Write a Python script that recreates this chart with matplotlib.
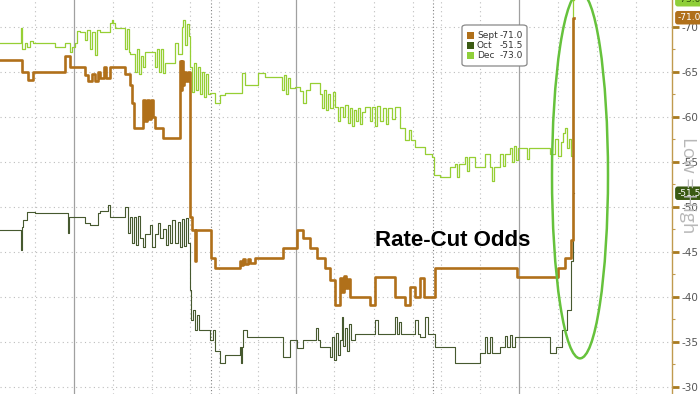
import matplotlib
matplotlib.use("Agg")
import matplotlib.pyplot as plt
from matplotlib.patches import Ellipse, FancyBboxPatch, Rectangle

# ---------------- data (time index, value) ----------------
sept_x = [0, 22, 28, 33, 65, 70, 85, 88, 92, 95, 98, 100, 104, 106, 110, 125, 130, 132, 134,
          143, 145, 147, 149, 151, 153, 155, 163, 180, 181, 182, 183, 184, 186, 188, 190, 192,
          195, 196, 211, 215, 240, 241, 243, 245, 248, 250, 255, 283, 297, 303, 310, 317, 325,
          330, 335, 340, 342, 344, 346, 348, 350, 370, 375, 395, 405, 410, 415, 420, 424, 435,
          517, 558, 565, 571, 573]
sept_v = [-66.3, -65.0, -64.1, -65.0, -66.8, -65.5, -64.6, -64.0, -64.8, -64.0, -65.0, -64.3,
          -65.5, -64.3, -65.5, -64.7, -63.5, -61.5, -58.7, -61.9, -59.5, -61.9, -59.8, -61.9,
          -60.0, -58.7, -57.6, -66.2, -63.0, -66.2, -63.5, -65.0, -64.0, -65.0, -48.9, -47.4,
          -44.0, -47.4, -44.3, -43.2, -44.0, -43.5, -44.2, -43.6, -44.2, -43.7, -44.3, -45.4,
          -47.4, -46.5, -45.4, -44.3, -43.2, -41.9, -39.1, -42.1, -40.5, -42.3, -41.0, -42.0,
          -40.0, -39.1, -42.2, -40.0, -39.1, -41.1, -40.0, -42.1, -40.0, -43.2, -42.2, -43.2,
          -44.3, -46.3, -71.0]

oct_x = [0, 21, 22, 23, 27, 35, 68, 69, 85, 90, 98, 100, 108, 110, 125, 128, 130, 132, 134,
         136, 138, 140, 143, 145, 150, 152, 155, 158, 160, 163, 166, 168, 170, 172, 175, 178,
         180, 182, 184, 186, 188, 190, 191, 193, 195, 197, 199, 210, 213, 215, 220, 225, 240,
         241, 242, 243, 247, 283, 290, 297, 303, 316, 318, 320, 330, 332, 334, 336, 338, 340,
         342, 343, 345, 347, 349, 351, 355, 375, 378, 395, 397, 399, 401, 415, 418, 420, 425,
         428, 435, 455, 480, 485, 487, 490, 492, 500, 505, 507, 510, 512, 515, 550, 556, 562,
         567, 571, 573]
oct_v = [-47.4, -45.2, -47.8, -48.5, -49.4, -49.3, -47.1, -48.9, -48.2, -48.0, -49.3, -49.5,
         -50.2, -48.9, -50.0, -47.1, -48.9, -46.0, -48.9, -45.8, -49.0, -46.5, -45.5, -47.0,
         -48.0, -45.5, -47.0, -48.2, -46.5, -47.5, -45.8, -48.0, -46.0, -48.5, -46.0, -48.3,
         -45.5, -48.6, -45.6, -48.8, -46.0, -40.7, -37.4, -38.5, -36.3, -38.0, -36.3, -35.2,
         -36.3, -34.0, -32.6, -33.5, -34.4, -32.6, -34.4, -36.3, -35.5, -33.3, -35.2, -34.3,
         -35.2, -36.5, -35.2, -34.4, -33.3, -35.5, -33.0, -36.0, -33.5, -35.2, -37.7, -34.5,
         -36.5, -34.0, -37.0, -35.2, -35.9, -37.4, -35.9, -37.7, -35.9, -37.2, -35.9, -37.4,
         -35.9, -35.5, -37.7, -35.9, -34.4, -32.6, -33.7, -35.5, -33.7, -35.5, -33.7, -34.4,
         -35.6, -34.4, -35.8, -34.4, -35.5, -33.7, -34.4, -36.3, -38.5, -44.0, -51.5]

dec_x = [0, 21, 22, 25, 27, 30, 33, 55, 65, 70, 72, 75, 77, 80, 85, 87, 90, 92, 95, 97, 100,
         110, 112, 113, 115, 125, 127, 129, 130, 135, 137, 139, 141, 143, 145, 155, 157, 159,
         161, 163, 165, 175, 178, 182, 183, 185, 187, 189, 190, 192, 194, 196, 198, 200, 202,
         204, 206, 208, 210, 215, 220, 225, 240, 242, 245, 258, 265, 280, 282, 284, 286, 288,
         290, 295, 300, 303, 306, 310, 320, 322, 324, 326, 328, 330, 333, 335, 338, 340, 343,
         345, 348, 350, 352, 354, 356, 358, 360, 362, 365, 370, 372, 375, 377, 380, 383, 386,
         388, 392, 395, 400, 405, 409, 411, 415, 425, 432, 434, 440, 450, 455, 457, 459, 465,
         467, 469, 475, 485, 490, 492, 494, 500, 503, 505, 510, 512, 514, 516, 518, 525, 527,
         529, 545, 550, 555, 558, 561, 563, 565, 567, 569, 571, 573]
dec_v = [-68.2, -69.9, -67.5, -68.2, -67.8, -68.4, -68.2, -67.7, -68.2, -67.2, -67.7, -68.2,
         -69.5, -69.4, -68.5, -69.6, -67.5, -69.4, -66.9, -69.6, -69.4, -70.4, -70.8, -70.4,
         -69.9, -67.5, -69.8, -67.2, -67.0, -65.0, -67.5, -64.8, -66.8, -65.5, -67.2, -65.5,
         -67.5, -65.0, -67.5, -64.9, -66.0, -68.2, -67.0, -70.0, -70.8, -68.0, -70.3, -69.0,
         -65.5, -62.8, -66.0, -63.0, -65.5, -62.5, -65.0, -62.2, -64.8, -62.5, -62.6, -61.5,
         -62.4, -62.6, -62.6, -64.9, -63.5, -64.9, -64.4, -64.4, -63.0, -64.6, -62.5, -64.3,
         -63.2, -63.3, -62.9, -61.5, -63.0, -63.7, -62.5, -61.0, -63.0, -60.8, -62.5, -61.0,
         -62.8, -61.1, -59.5, -61.1, -60.0, -61.3, -59.3, -61.0, -59.0, -60.8, -59.5, -61.0,
         -59.2, -60.5, -61.1, -59.5, -61.1, -59.0, -61.2, -59.5, -61.0, -59.2, -61.0, -59.7,
         -61.1, -58.8, -57.4, -58.5, -57.4, -56.6, -55.9, -55.5, -53.5, -53.3, -54.4, -54.8,
         -53.3, -54.8, -55.5, -54.0, -55.5, -54.4, -55.9, -54.4, -52.9, -54.4, -55.9, -54.5,
         -55.9, -56.5, -55.0, -56.8, -55.2, -56.5, -56.5, -55.3, -56.5, -56.5, -55.9, -57.5,
         -55.6, -57.2, -58.2, -58.8, -56.5, -57.5, -55.6, -73.0]

end_x = 574
series_names = ["Sept", "Oct", "Dec"]
last_values = [-71.0, -51.5, -73.0]
y_ticks = [-70, -65, -60, -55, -50, -45, -40, -35, -30]

dotted_vlines = [35, 113, 152, 190, 219, 258, 334, 374, 413, 441, 480, 558, 597, 636]
dark_vlines = [211, 433]
solid_vlines = [74, 296, 519]

C_SEPT = "#b0701a"
C_OCT = "#46592f"
C_DEC = "#96cf34"
C_AXIS = "#c09a4e"

fig = plt.figure(figsize=(7, 3.94), dpi=100)
ax = fig.add_axes([0, 0, 672 / 700, 1])
ax.set_xlim(0, 672)
ax.set_ylim(-29.19, -72.97)

# grid
for y in y_ticks:
    ax.axhline(y, color="#bdbdbd", lw=0.8, ls=(0, (1, 3)), zorder=0)
for x in dotted_vlines:
    ax.axvline(x, color="#bdbdbd", lw=0.8, ls=(0, (1, 3)), zorder=0)
for x in dark_vlines:
    ax.axvline(x, color="#808080", lw=0.8, ls=(0, (1, 2)), zorder=0)
for x in solid_vlines:
    ax.axvline(x, color="#a0a0a0", lw=0.9, zorder=0)

def stepxy(xs, vs):
    return list(xs) + [end_x], list(vs) + [vs[-1]]

x, v = stepxy(dec_x, dec_v)
ax.step(x, v, where="post", color=C_DEC, lw=0.9, zorder=3)
x, v = stepxy(oct_x, oct_v)
ax.step(x, v, where="post", color=C_OCT, lw=0.8, zorder=3)
x, v = stepxy(sept_x, sept_v)
ax.step(x, v, where="post", color=C_SEPT, lw=1.9, zorder=4)

# ellipse highlight
ax.add_patch(Ellipse((580, -53.5), 56, 40.7, fill=False, ec="#66c23c", lw=1.8, zorder=6,
                     clip_on=True))

# axes styling
for s in ["left", "top", "bottom"]:
    ax.spines[s].set_visible(False)
ax.spines["right"].set_color(C_AXIS)
ax.spines["right"].set_linewidth(1.0)
ax.set_xticks([])
ax.yaxis.tick_right()
ax.set_yticks(y_ticks)
ax.set_yticklabels([str(t) for t in y_ticks], fontsize=7.5, color="#555555")
ax.set_yticks([-67.5, -62.5, -57.5, -52.5, -47.5, -42.5, -37.5, -32.5], minor=True)
ax.tick_params(axis="y", which="major", direction="out", length=5, width=2,
               color="#a87a20", pad=1.5)
ax.tick_params(axis="y", which="minor", direction="out", length=2.5, width=0.8,
               color=C_AXIS)

# text
ax.text(375, -46.2, "Rate-Cut Odds", fontsize=16, fontweight="bold",
        family="Liberation Sans", color="black", va="center", ha="left", zorder=7)
fig.text(0.983, 0.53, "Low = High", rotation=-90, color="#b8b8b8", fontsize=13.5,
         va="center", ha="center", family="Open Sans")

# last-value tags
tag_fc = [C_SEPT, "#3a5a12", "#8fcf3a"]
tag_tc = ["white", "white", "#2a4a0a"]
trans = ax.get_yaxis_transform()
for val, fc, tc in zip(last_values, tag_fc, tag_tc):
    ax.text(1.008, val, f"{val:.1f}", transform=trans, fontsize=6.5, color=tc,
            ha="left", va="center", clip_on=False, zorder=8,
            bbox=dict(boxstyle="round,pad=0.25,rounding_size=0.3", fc=fc, ec="none"))

# legend (manual)
def fx(px):
    return px / 700
def fy(py):
    return 1 - py / 394

fig.patches.append(FancyBboxPatch((fx(462), fy(66)), fx(527) - fx(462), fy(25) - fy(66),
                                  boxstyle="round,pad=0,rounding_size=0.006",
                                  transform=fig.transFigure, fc="white", ec="#888888",
                                  lw=0.9, zorder=9))
leg_colors = [C_SEPT, "#3a5a12", "#8fcf3a"]
for i, (name, val, col) in enumerate(zip(series_names, last_values, leg_colors)):
    yc = 35 + i * 10.2
    fig.patches.append(Rectangle((fx(466.5), fy(yc + 3.5)), 7 / 700, 7 / 394,
                                 transform=fig.transFigure, fc=col, ec="none", zorder=10))
    fig.text(fx(477), fy(yc), name, fontsize=6.5, color="#333333", va="center",
             ha="left", zorder=11)
    fig.text(fx(500), fy(yc), f"{val:.1f}", fontsize=6.5, color="#333333",
             va="center", ha="left", zorder=11)

fig.savefig("out.png", dpi=100)
